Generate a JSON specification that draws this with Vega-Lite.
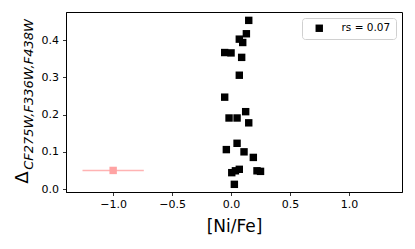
{
  "$schema": "https://vega.github.io/schema/vega-lite/v6.json",
  "autosize": {"type": "none"},
  "width": 336,
  "height": 180,
  "padding": {"left": 66, "top": 12, "right": 13, "bottom": 57},
  "background": "white",
  "config": {
    "font": "DejaVu Sans",
    "view": {"stroke": "black", "strokeWidth": 1},
    "axis": {
      "grid": false,
      "domainColor": "black",
      "tickColor": "black",
      "tickSize": 3.5,
      "tickWidth": 0.8,
      "labelFont": "DejaVu Sans",
      "labelFontSize": 11,
      "labelColor": "black",
      "titleFont": "DejaVu Sans",
      "titleFontWeight": "normal",
      "titleColor": "black"
    }
  },
  "layer": [
    {
      "data": {"values": [{"x": -1.0, "y": 0.05, "xlo": -1.26, "xhi": -0.74}]},
      "layer": [
        {
          "mark": {"type": "rule", "color": "#ffb3b3", "strokeWidth": 1.6},
          "encoding": {
            "x": {"field": "xlo", "type": "quantitative", "scale": {"domain": [-1.4, 1.45], "nice": false, "zero": false}},
            "x2": {"field": "xhi"},
            "y": {"field": "y", "type": "quantitative", "scale": {"domain": [-0.008, 0.476], "nice": false, "zero": false},
              "axis": {"orient": "left", "labels": false, "ticks": false, "domain": false, "title": "Δ", "titleFontSize": 18, "titleAngle": -90, "titleAlign": "center", "titleBaseline": "middle", "titleX": -44, "titleY": 165}}
          }
        },
        {
          "mark": {"type": "square", "filled": true, "size": 55, "color": "#ffa3a3", "opacity": 1},
          "encoding": {
            "x": {"field": "x", "type": "quantitative"},
            "y": {"field": "y", "type": "quantitative"}
          }
        }
      ]
    },
    {
      "data": {"values": [
        {"x": 0.150, "y": 0.4535, "series": "rs = 0.07"},
        {"x": 0.130, "y": 0.4175, "series": "rs = 0.07"},
        {"x": 0.070, "y": 0.403, "series": "rs = 0.07"},
        {"x": 0.099, "y": 0.394, "series": "rs = 0.07"},
        {"x": -0.054, "y": 0.367, "series": "rs = 0.07"},
        {"x": 0.000, "y": 0.366, "series": "rs = 0.07"},
        {"x": 0.090, "y": 0.354, "series": "rs = 0.07"},
        {"x": 0.070, "y": 0.306, "series": "rs = 0.07"},
        {"x": -0.054, "y": 0.247, "series": "rs = 0.07"},
        {"x": 0.124, "y": 0.208, "series": "rs = 0.07"},
        {"x": -0.017, "y": 0.191, "series": "rs = 0.07"},
        {"x": 0.051, "y": 0.191, "series": "rs = 0.07"},
        {"x": 0.150, "y": 0.178, "series": "rs = 0.07"},
        {"x": 0.051, "y": 0.123, "series": "rs = 0.07"},
        {"x": -0.040, "y": 0.106, "series": "rs = 0.07"},
        {"x": 0.110, "y": 0.100, "series": "rs = 0.07"},
        {"x": 0.189, "y": 0.085, "series": "rs = 0.07"},
        {"x": 0.220, "y": 0.049, "series": "rs = 0.07"},
        {"x": 0.250, "y": 0.0475, "series": "rs = 0.07"},
        {"x": 0.070, "y": 0.053, "series": "rs = 0.07"},
        {"x": 0.037, "y": 0.049, "series": "rs = 0.07"},
        {"x": 0.006, "y": 0.044, "series": "rs = 0.07"},
        {"x": 0.028, "y": 0.0126, "series": "rs = 0.07"}
      ]},
      "mark": {"type": "square", "filled": true, "size": 55, "opacity": 1},
      "encoding": {
        "x": {"field": "x", "type": "quantitative",
          "scale": {"domain": [-1.4, 1.45], "nice": false, "zero": false},
          "axis": {"values": [-1, -0.5, 0, 0.5, 1], "format": ".1f", "labelPadding": 3, "title": "[Ni/Fe]", "titleFontSize": 17, "titlePadding": 9}},
        "y": {"field": "y", "type": "quantitative",
          "scale": {"domain": [-0.008, 0.476], "nice": false, "zero": false},
          "axis": {"orient": "left", "values": [0, 0.1, 0.2, 0.3, 0.4], "format": ".1f", "labelPadding": 4,
            "title": "CF275W,F336W,F438W", "titleFontSize": 13, "titleFontStyle": "italic", "titleAngle": -90, "titleAlign": "center", "titleBaseline": "middle", "titleX": -38, "titleY": 82}},
        "color": {"field": "series", "type": "nominal", "scale": {"range": ["black"]},
          "legend": {"title": null, "orient": "top-right", "offset": 6, "symbolType": "square", "symbolSize": 55, "symbolFillColor": "black", "symbolStrokeWidth": 0, "labelFontSize": 10.5, "labelFont": "DejaVu Sans", "labelColor": "black", "strokeColor": "#d0d0d0", "fillColor": "white", "cornerRadius": 3, "padding": 5, "symbolOffset": 7, "labelOffset": 17}}
      }
    }
  ],
  "resolve": {"scale": {"y": "independent"}}
}
